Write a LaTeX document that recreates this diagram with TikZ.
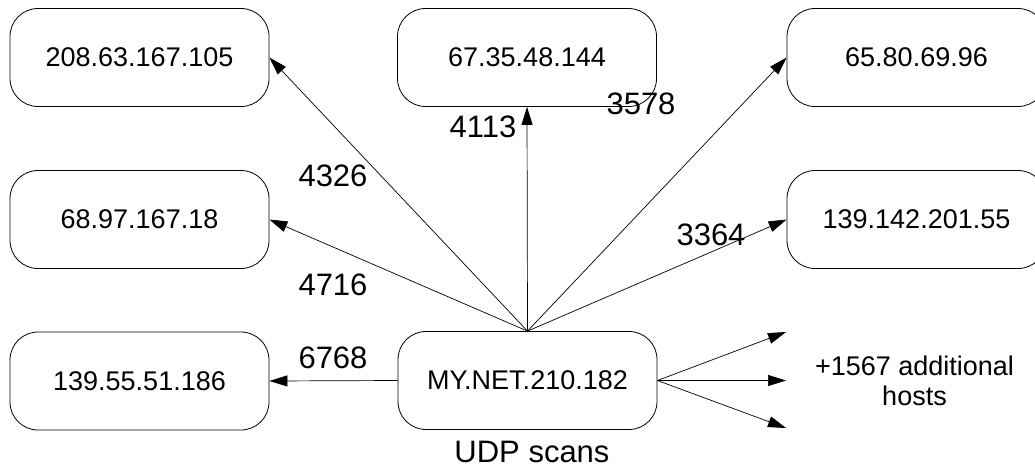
\documentclass[tikz,border=0pt]{standalone}
\usepackage{fontspec}
\setmainfont{Liberation Sans}
\usetikzlibrary{arrows.meta}
\begin{document}
\begin{tikzpicture}[x=1pt,y=-1pt,
  host/.style={draw, line width=0.8pt, rounded corners=28pt, minimum width=259pt,
    minimum height=98pt, inner sep=0pt, font=\fontsize{27}{30}\selectfont},
  port/.style={inner sep=0pt, font=\fontsize{31}{34}\selectfont},
  scan/.style={line width=0.7pt, -{Triangle[length=18pt,width=11pt]}}]
\useasboundingbox (0,0) rectangle (1035,469);

% target hosts
\node[host] (h1) at (139.5,57.5)  {208.63.167.105};
\node[host] (h2) at (527,57.5)    {67.35.48.144};
\node[host] (h3) at (916.5,57.5)  {65.80.69.96};
\node[host] (h4) at (139.5,219.5) {68.97.167.18};
\node[host] (h5) at (916.5,219.5) {139.142.201.55};
\node[host] (h6) at (139.5,381)   {139.55.51.186};

% scanning host
\node[host] (src) at (527.5,380.5) {MY.NET.210.182};
\node[port] (cap) at (532,452) {UDP scans};

% the remaining hosts
\coordinate (r1) at (786,332);
\coordinate (r2) at (786,380.5);
\coordinate (r3) at (786,428);
\node[inner sep=0pt, align=center, font=\fontsize{27}{30}\selectfont] (more) at (914.5,381)
  {+1567 additional\\hosts};

% scans to each host
\draw[scan] (src.north) -- (h1.east);
\draw[scan] (src.north) -- (h2.south);
\draw[scan] (src.north) -- (h3.west);
\draw[scan] (src.north) -- (h4.east);
\draw[scan] (src.north) -- (h5.west);
\draw[scan] (src.west) -- (h6.east);
\draw[scan] (src.east) -- (r1);
\draw[scan] (src.east) -- (r2);
\draw[scan] (src.east) -- (r3);

% destination ports
\node[port] (p1) at (333,176)   {4326};
\node[port] (p2) at (483,127)   {4113};
\node[port] (p3) at (641,104)   {3578};
\node[port] (p4) at (333,285)   {4716};
\node[port] (p5) at (711,235)   {3364};
\node[port] (p6) at (333,357.5) {6768};
\end{tikzpicture}
\end{document}
